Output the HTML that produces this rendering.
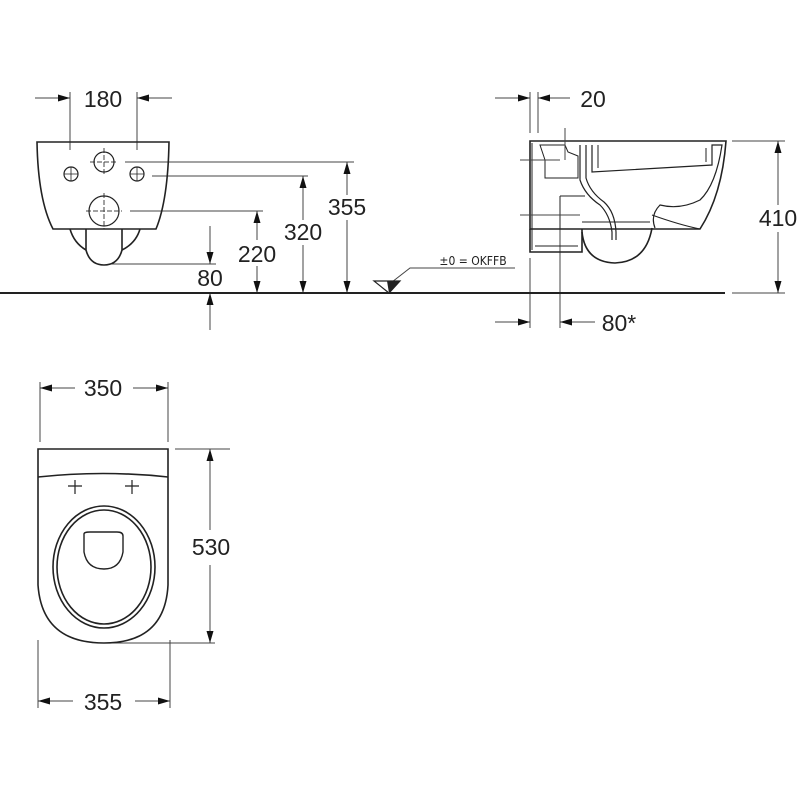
<!DOCTYPE html>
<html><head><meta charset="utf-8"><style>html,body{margin:0;padding:0;background:#fff}svg{display:block}</style></head>
<body>
<svg width="800" height="800" viewBox="0 0 800 800" xmlns="http://www.w3.org/2000/svg">
<defs>
<marker id="a" viewBox="0 0 12 7" refX="12" refY="3.5" markerWidth="12" markerHeight="7" markerUnits="userSpaceOnUse" orient="auto"><path d="M0,0 L12,3.5 L0,7 Z" fill="#111"/></marker>
</defs>
<g font-family="Liberation Sans, sans-serif" font-size="23" fill="#222" text-anchor="middle">
<text x="103" y="107">180</text>
<text x="347" y="215">355</text>
<text x="303" y="240">320</text>
<text x="257" y="262">220</text>
<text x="210" y="286">80</text>
<text x="593" y="107">20</text>
<text x="778" y="226">410</text>
<text x="619" y="331">80*</text>
<text x="103" y="396">350</text>
<text x="211" y="555">530</text>
<text x="103" y="710">355</text>
<text x="473" y="265" font-size="12" font-family="DejaVu Sans Condensed, Liberation Sans, sans-serif">±0 = OKFFB</text>
</g>
<g stroke="#444" stroke-width="1" fill="none">
<line x1="70" y1="92" x2="70" y2="150"/><line x1="137" y1="92" x2="137" y2="150"/>
<line x1="35" y1="98" x2="70" y2="98" marker-end="url(#a)"/>
<line x1="172" y1="98" x2="137" y2="98" marker-end="url(#a)"/>
<line x1="125" y1="162" x2="354" y2="162"/>
<line x1="152" y1="176" x2="308" y2="176"/>
<line x1="130" y1="211" x2="263" y2="211"/>
<line x1="110" y1="264" x2="216" y2="264"/>
<line x1="347" y1="195" x2="347" y2="162" marker-end="url(#a)"/>
<line x1="347" y1="220" x2="347" y2="293" marker-end="url(#a)"/>
<line x1="303" y1="220" x2="303" y2="176" marker-end="url(#a)"/>
<line x1="303" y1="245" x2="303" y2="293" marker-end="url(#a)"/>
<line x1="257" y1="240" x2="257" y2="211" marker-end="url(#a)"/>
<line x1="257" y1="266" x2="257" y2="293" marker-end="url(#a)"/>
<line x1="210" y1="226" x2="210" y2="264" marker-end="url(#a)"/>
<line x1="210" y1="330" x2="210" y2="293" marker-end="url(#a)"/>
<line x1="530" y1="92" x2="530" y2="133"/><line x1="538" y1="92" x2="538" y2="133"/>
<line x1="495" y1="98" x2="530" y2="98" marker-end="url(#a)"/>
<line x1="570" y1="98" x2="538" y2="98" marker-end="url(#a)"/>
<line x1="732" y1="141" x2="785" y2="141"/><line x1="732" y1="293" x2="785" y2="293"/>
<line x1="778" y1="205" x2="778" y2="141" marker-end="url(#a)"/>
<line x1="778" y1="232" x2="778" y2="293" marker-end="url(#a)"/>
<line x1="530" y1="258" x2="530" y2="328"/><line x1="560" y1="200" x2="560" y2="328"/>
<line x1="495" y1="322" x2="530" y2="322" marker-end="url(#a)"/>
<line x1="595" y1="322" x2="560" y2="322" marker-end="url(#a)"/>
<line x1="40" y1="382" x2="40" y2="442"/><line x1="168" y1="382" x2="168" y2="442"/>
<line x1="75" y1="388" x2="40" y2="388" marker-end="url(#a)"/>
<line x1="133" y1="388" x2="168" y2="388" marker-end="url(#a)"/>
<line x1="175" y1="449" x2="230" y2="449"/><line x1="105" y1="643" x2="215" y2="643"/>
<line x1="210" y1="530" x2="210" y2="449" marker-end="url(#a)"/>
<line x1="210" y1="565" x2="210" y2="643" marker-end="url(#a)"/>
<line x1="38" y1="640" x2="38" y2="708"/><line x1="170" y1="640" x2="170" y2="708"/>
<line x1="73" y1="701" x2="38" y2="701" marker-end="url(#a)"/>
<line x1="135" y1="701" x2="170" y2="701" marker-end="url(#a)"/>
<path d="M392,282 L410,268 L515,268"/>
<path d="M90,162 L118,162 M104,148 L104,176 M86,211 L122,211 M104,193 L104,229" stroke-dasharray="5,2"/>
</g>
<line x1="0" y1="293" x2="725" y2="293" stroke="#222" stroke-width="2"/>
<path d="M374,281 L400,281 L389,293 Z" fill="#fff" stroke="#222" stroke-width="1.2"/>
<path d="M387,281 L400,281 L389,293 Z" fill="#222"/>
<g stroke="#222" stroke-width="1.6" fill="none">
<path d="M37,142 L169,142 Q168,200 156,229 L53,229 Q38,200 37,142 Z"/>
<path d="M70,229 Q74,243 86,250"/><path d="M140,229 Q136,243 122,250"/>
<path d="M86,229 L86,250 Q90,265 104,265 Q118,265 122,250 L122,229"/>
<circle cx="104" cy="162" r="10" stroke-width="1.2"/>
<circle cx="71" cy="174" r="7" stroke-width="1.2"/><circle cx="137" cy="174" r="7" stroke-width="1.2"/>
<path d="M64,174 L78,174 M71,167 L71,181 M130,174 L144,174 M137,167 L137,181" stroke-width="0.8"/>
<circle cx="104" cy="211" r="15" stroke-width="1.2"/>
<path d="M530,141 L726,141 Q722,195 700,229 L530,229 Z"/>
<path d="M530,229 L530,252 L582,252 L582,229"/>
<path d="M582,232 Q585,262 615,263 Q646,262 652,228"/>
<path d="M532,143 L532,250 M535,246 L578,246" stroke-width="1"/>
<path d="M580,145 L580,180 Q585,195 600,205 Q610,215 612,232 L612,240" stroke-width="1.2"/>
<path d="M586,145 L586,178 Q590,192 604,202 Q615,212 616,232 L616,240" stroke-width="1.2"/>
<path d="M592,145 L592,172 L712,165 L712,145 L722,145 Q716,185 700,200 Q680,210 660,205 Q650,215 655,228" stroke-width="1.2"/>
<path d="M598,145 L598,168 M706,148 L706,162" stroke-width="1"/>
<path d="M652,215 Q680,225 700,229" stroke-width="1"/>
<path d="M582,222 L650,222" stroke-width="1"/>
<path d="M540,145 L565,145 L568,152 L578,156 L578,178 L545,178 L545,160 Z" stroke-width="1"/>
<path d="M560,196 L585,196 M560,196 L560,229" stroke-width="1"/>
<path d="M520,160 L560,160 M520,215 L580,215" stroke="#444" stroke-width="1"/>
<path d="M565,128 L565,160" stroke="#444" stroke-width="1"/>
<path d="M38,449 L168,449 L168,585 Q165,643 104,643 Q42,643 38,585 Z"/>
<path d="M38,477 Q103,470 168,477"/>
<ellipse cx="104" cy="567" rx="51" ry="61"/>
<ellipse cx="104" cy="567" rx="47" ry="57"/>
<path d="M84,534 Q84,532 90,532 L117,532 Q123,532 123,536 L123,552 Q120,569 104,569 Q87,569 84,552 Z" stroke-width="1.4"/>
<path d="M68,486 L82,486 M75,480 L75,494 M125,486 L139,486 M132,480 L132,494" stroke-width="1.2"/>
</g>
</svg>
</body></html>
